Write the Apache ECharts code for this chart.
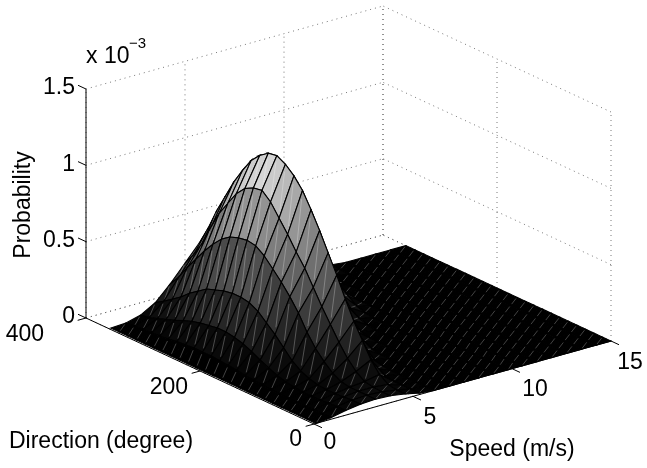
<!DOCTYPE html>
<html>
<head>
<meta charset="utf-8">
<style>html,body{margin:0;padding:0;background:#fff}#c{width:647px;height:468px}</style>
<script src="https://cdn.jsdelivr.net/npm/echarts@6/dist/echarts.min.js"></script>
</head>
<body>
<div id="c"></div>
<script>
// Grid of the surface
var speeds = [0.1,0.85,1.6,2.35,3.1,3.85,4.6,5.3,6.05,6.8,7.55,8.3,9.05,9.8,10.5,11.25,12,12.75,13.5,14.25,15];
var directions = [0,15,30,45,60,75,90,105,120,135,150,165,180,195,210,225,240,255,270,285,300,315,330,345,360];
// Probability (x 10^-3), one list per speed, in direction order
var p00 = [0,0,0,0,0,0,0,0,0,0,0,0,0,0,0,0,0,0,0,0,0,0,0,0,0];
var p01 = [.01,.01,.01,.005,.005,.005,.01,.01,.015,.02,.025,.035,.04,.045,.05,.05,.05,.045,.04,.03,.025,.02,.015,.01,.005];
var p02 = [.03,.03,.025,.02,.02,.02,.025,.035,.05,.075,.1,.13,.155,.17,.18,.18,.17,.16,.145,.125,.1,.08,.06,.04,.03];
var p03 = [.045,.045,.04,.035,.035,.04,.055,.08,.12,.18,.24,.29,.34,.37,.38,.38,.37,.35,.33,.29,.25,.2,.16,.12,.085];
var p04 = [.05,.05,.05,.05,.06,.09,.14,.2,.28,.38,.46,.53,.59,.65,.69,.7,.69,.67,.63,.57,.5,.42,.34,.25,.18];
var p05 = [.045,.045,.05,.06,.1,.16,.24,.33,.42,.52,.62,.7,.79,.87,.95,1.0,.99,.96,.9,.81,.72,.6,.47,.37,.29];
var p06 = [.03,.03,.04,.08,.15,.25,.35,.47,.6,.72,.84,.95,1.05,1.12,1.17,1.2,1.19,1.15,1.09,1.0,.9,.78,.66,.52,.4];
var p07 = [.01,.01,.01,.01,.02,.04,.1,.19,.3,.43,.56,.67,.78,.88,.97,1.05,1.1,1.12,1.08,1.02,.92,.8,.68,.56,.42];
var p08 = [0,0,0,0,0,0,.005,.02,.06,.14,.25,.36,.47,.58,.7,.8,.89,.95,.96,.93,.86,.76,.65,.53,.44];
var p09 = [0,0,0,0,0,0,0,0,0,.01,.03,.08,.16,.27,.38,.5,.62,.71,.76,.78,.75,.69,.6,.5,.42];
var p10 = [0,0,0,0,0,0,0,0,0,0,0,.005,.02,.07,.16,.27,.38,.48,.55,.58,.56,.52,.45,.38,.3];
var p11 = [0,0,0,0,0,0,0,0,0,0,0,0,0,.01,.03,.07,.13,.22,.32,.36,.38,.36,.33,.28,.22];
var p12 = [0,0,0,0,0,0,0,0,0,0,0,0,0,0,0,.01,.03,.07,.1,.17,.21,.21,.19,.16,.13];
var p13 = [0,0,0,0,0,0,0,0,0,0,0,0,0,0,0,0,0,0,0,.01,.05,.09,.1,.08,.06];
var p14 = [0,0,0,0,0,0,0,0,0,0,0,0,0,0,0,0,0,0,0,0,0,0,.02,.03,.03];
var p15 = [0,0,0,0,0,0,0,0,0,0,0,0,0,0,0,0,0,0,0,0,0,0,0,.005,.01];
var p16 = p00, p17 = p00, p18 = p00, p19 = p00, p20 = p00;
var probability = [p00,p01,p02,p03,p04,p05,p06,p07,p08,p09,p10,p11,p12,p13,p14,p15,p16,p17,p18,p19,p20];

// Axis ticks and labels
var speedTicks = [0,5,10,15];
var directionTicks = [0,200,400];
var probabilityTicks = [0,0.5,1,1.5];
var probabilityLabels = ['0','0.5','1','1.5'];

var speedTitle = 'Speed (m/s)';
var directionTitle = 'Direction (degree)';
var probabilityTitle = 'Probability';

// View: the 3D box limits and how one unit of each axis projects on the page
var speedMax = 15, directionMax = 400, probabilityMax = 1.5;
var view = {ox:314, oy:424, sx:297/15, sy:-83/15, dx:-228/400, dy:-106/400, zy:-229/1.5};
var colorMax = 1.2;
var FONT = '"Liberation Sans", Arial, sans-serif';
var FS = '23px ';

function project(s,d,z){
  return [view.ox + view.sx*s + view.dx*d, view.oy + view.sy*s + view.dy*d + view.zy*z];
}

// Back walls and floor grid (dotted)
var gridSegs = [];
function seg(list,a,b){ list.push([a,b]); }
speedTicks.forEach(function(s){
  seg(gridSegs,[s,directionMax,0],[s,directionMax,probabilityMax]);
  seg(gridSegs,[s,0,0],[s,directionMax,0]);
});
directionTicks.forEach(function(d){
  seg(gridSegs,[speedMax,d,0],[speedMax,d,probabilityMax]);
  seg(gridSegs,[0,d,0],[speedMax,d,0]);
});
probabilityTicks.forEach(function(z){
  seg(gridSegs,[0,directionMax,z],[speedMax,directionMax,z]);
  seg(gridSegs,[speedMax,0,z],[speedMax,directionMax,z]);
});

// Solid axes and ticks
var axisSegs = [];
seg(axisSegs,[0,0,0],[speedMax,0,0]);
seg(axisSegs,[0,0,0],[0,directionMax,0]);
seg(axisSegs,[0,directionMax,0],[0,directionMax,probabilityMax]);
var tickS = 0.42, tickD = 14;
speedTicks.forEach(function(s){ seg(axisSegs,[s,0,0],[s,-tickD,0]); });
directionTicks.forEach(function(d){ seg(axisSegs,[0,d,0],[-tickS,d,0]); });
probabilityTicks.forEach(function(z){ seg(axisSegs,[0,directionMax,z],[0,directionMax+tickD,z]); });

// Surface cells ordered far to near
var cells = [];
for (var j = directions.length-2; j >= 0; j--) {
  for (var i = speeds.length-2; i >= 0; i--) cells.push([i,j]);
}

function lineRender(list, style){
  return function(params, api){
    var it = list[params.dataIndex];
    var a = api.coord(project.apply(null,it[0]));
    var b = api.coord(project.apply(null,it[1]));
    return {type:'line', shape:{x1:a[0],y1:a[1],x2:b[0],y2:b[1]}, style:style, silent:true};
  };
}

function cellRender(params, api){
  var c = cells[params.dataIndex], i = c[0], j = c[1];
  function P(a,b){ return api.coord(project(speeds[a],directions[b],probability[a][b])); }
  var p1=P(i,j), p2=P(i+1,j), p3=P(i+1,j+1), p4=P(i,j+1);
  var v = Math.round(Math.min(1,probability[i][j]/colorMax)*255);
  var col = 'rgb('+v+','+v+','+v+')';
  var t0 = 0.14, t1 = 0.86;
  return {type:'group', silent:true, children:[
    {type:'polygon', shape:{points:[p1,p2,p3,p4]}, style:{fill:col, stroke:'#000', lineWidth:1.1}},
    {type:'line', shape:{
      x1:p1[0]+(p3[0]-p1[0])*t0, y1:p1[1]+(p3[1]-p1[1])*t0,
      x2:p1[0]+(p3[0]-p1[0])*t1, y2:p1[1]+(p3[1]-p1[1])*t1},
      style:{stroke:'rgba(255,255,255,0.38)', lineWidth:0.7}}
  ]};
}

// Text labels: value anchored to its axis position, nudged by a small page offset
var texts = [];
probabilityTicks.forEach(function(z,k){
  texts.push({p:[0,directionMax,z], dx:-11, dy:-1, text:probabilityLabels[k], align:'right'});
});
var dirOffsets = [[-12,16],[-12,17],[-42,17]];
directionTicks.forEach(function(d,k){
  texts.push({p:[0,d,0], dx:dirOffsets[k][0], dy:dirOffsets[k][1], text:String(d), align:'right'});
});
var speedOffsets = [[16,19],[17,21],[23,21],[19,22]];
speedTicks.forEach(function(s,k){
  texts.push({p:[s,0,0], dx:speedOffsets[k][0], dy:speedOffsets[k][1], text:String(s), align:'center'});
});

function textRender(params, api){
  var t = texts[params.dataIndex];
  var a = api.coord(project.apply(null,t.p));
  return {type:'text', silent:true, x:a[0]+t.dx, y:a[1]+t.dy,
    style:{text:t.text, fill:'#000', font:FS+FONT, align:t.align, verticalAlign:'middle'}};
}

var chart = echarts.init(document.getElementById('c'), null, {renderer:'canvas'});
function idx(list){ return list.map(function(_,k){ return [k,0]; }); }
function layer(name,list,fn,z){
  return {name:name, type:'custom', coordinateSystem:'cartesian2d', renderItem:fn, data:idx(list),
    encode:{x:0,y:1}, clip:false, silent:true, z:z, progressive:0, animation:false};
}
chart.setOption({
  animation:false,
  backgroundColor:'#fff',
  grid:{left:0,right:0,top:0,bottom:0},
  xAxis:{type:'value',min:0,max:647,show:false},
  yAxis:{type:'value',min:0,max:468,inverse:true,show:false},
  series:[
    layer('grid',gridSegs,lineRender(gridSegs,{stroke:'#555',lineWidth:0.8,lineDash:[1,4]}),1),
    layer('axes',axisSegs,lineRender(axisSegs,{stroke:'#000',lineWidth:1}),2),
    layer('surface',cells,cellRender,3),
    layer('labels',texts,textRender,4)
  ],
  graphic:[
    {type:'text',silent:true,x:86,y:57,style:{text:'x 10',fill:'#000',font:FS+FONT,verticalAlign:'middle'}},
    {type:'text',silent:true,x:129,y:44,style:{text:'\u22123',fill:'#000',font:'15px '+FONT,verticalAlign:'middle'}},
    {type:'text',silent:true,x:101,y:442,style:{text:directionTitle,fill:'#000',font:FS+FONT,align:'center',verticalAlign:'middle'}},
    {type:'text',silent:true,x:512,y:450,style:{text:speedTitle,fill:'#000',font:FS+FONT,align:'center',verticalAlign:'middle'}},
    {type:'text',silent:true,x:24,y:205,rotation:Math.PI/2,style:{text:probabilityTitle,fill:'#000',font:FS+FONT,align:'center',verticalAlign:'middle'}}
  ]
});
</script>
</body>
</html>
